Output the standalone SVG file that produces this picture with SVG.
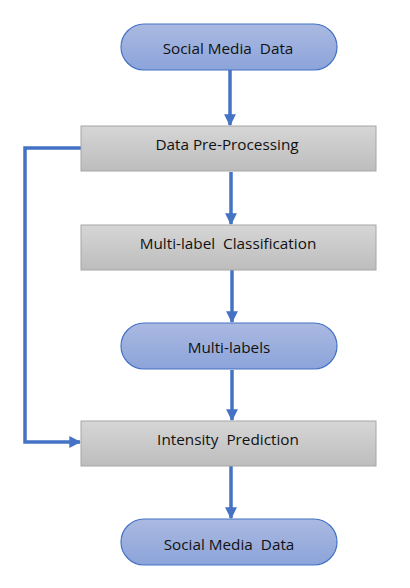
<svg xmlns="http://www.w3.org/2000/svg" width="410" height="588" viewBox="0 0 410 588">
<style>
.term{fill:url(#gb);stroke:#4472C4;stroke-width:1.2}
.proc{fill:url(#gg);stroke:#A6A6A6;stroke-width:1}
.lbl{font-family:"Open Sans","Liberation Sans",sans-serif;font-size:15.3px;fill:#111;text-anchor:middle;dominant-baseline:central;white-space:pre}
.conn{fill:none;stroke:#4472C4;stroke-width:3.5;marker-end:url(#ah)}
</style>
<defs>
<linearGradient id="gb" x1="0" y1="0" x2="0" y2="1"><stop offset="0" stop-color="#AAB9E1"/><stop offset="1" stop-color="#8CA4DA"/></linearGradient>
<linearGradient id="gg" x1="0" y1="0" x2="0" y2="1"><stop offset="0" stop-color="#D6D6D6"/><stop offset="1" stop-color="#BDBDBD"/></linearGradient>
<marker id="ah" viewBox="0 0 10 10" refX="9" refY="5" markerWidth="3.4" markerHeight="3.4" markerUnits="strokeWidth" orient="auto"><path d="M0,0 L10,5 L0,10 z" fill="#4472C4"/></marker>
</defs>
<g id="connectors">
<path class="conn" d="M230,70 V125"/>
<path class="conn" d="M231,172 V224"/>
<path class="conn" d="M232,270 V322"/>
<path class="conn" d="M232,370 V420"/>
<path class="conn" d="M231,466 V518"/>
<path class="conn" d="M81,148 H25 V442 H80"/>
</g>
<g id="n1"><rect class="term" x="121" y="24" width="216" height="46" rx="23"/><text class="lbl" x="228" y="47.5">Social Media  Data</text></g>
<g id="n2"><rect class="proc" x="81" y="126" width="295" height="45"/><text class="lbl" x="227" y="143.5">Data Pre-Processing</text></g>
<g id="n3"><rect class="proc" x="81" y="225" width="295" height="45"/><text class="lbl" x="228" y="242.5">Multi-label  Classification</text></g>
<g id="n4"><rect class="term" x="121" y="323" width="216" height="46" rx="23"/><text class="lbl" x="229" y="347">Multi-labels</text></g>
<g id="n5"><rect class="proc" x="81" y="421" width="295" height="45"/><text class="lbl" x="228" y="438.5">Intensity  Prediction</text></g>
<g id="n6"><rect class="term" x="121" y="519" width="216" height="46" rx="23"/><text class="lbl" x="229" y="543.5">Social Media  Data</text></g>
</svg>
